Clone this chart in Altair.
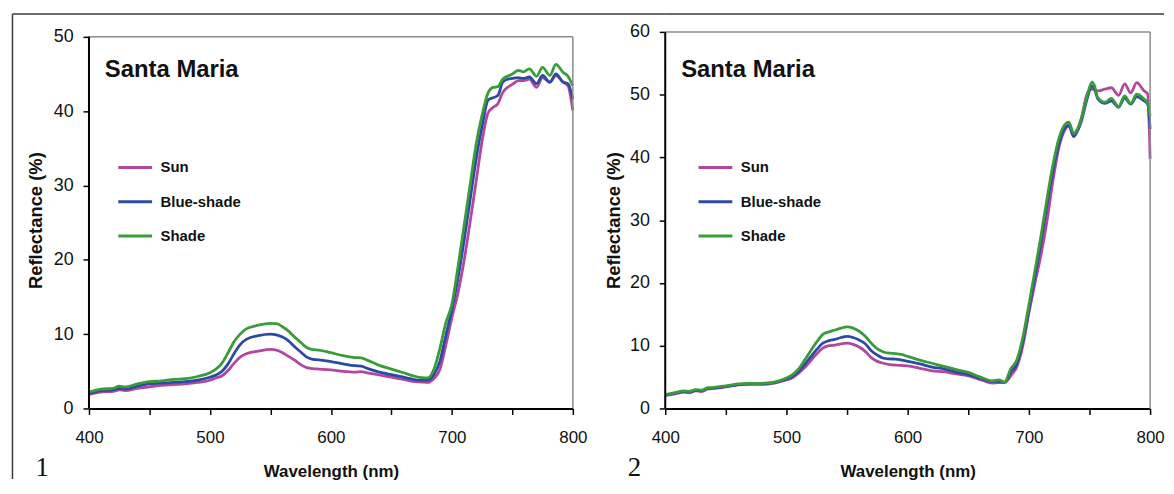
import altair as alt
import pandas as pd

SERIES = ["Sun", "Blue-shade", "Shade"]
COLORS = ["#b2479f", "#2b4ba3", "#3a9b3a"]

# ---------------- Panel 1 ----------------
WL1 = [400, 410, 420, 425, 430, 440, 450, 460, 470, 480,
       490, 500, 505, 510, 515, 520, 525, 530, 540, 550,
       555, 560, 565, 570, 575, 580, 585, 590, 600, 610,
       620, 625, 630, 640, 650, 660, 670, 675, 680, 685,
       690, 695, 700, 705, 710, 715, 720, 725, 730, 734,
       738, 742, 746, 750, 755, 759, 764, 770, 775, 781,
       786, 792, 796, 800]
SHADE1 = [2.2, 2.6, 2.7, 3.0, 2.9, 3.3, 3.6, 3.7, 3.9, 4.0,
          4.3, 4.8, 5.3, 6.1, 7.5, 9.0, 10.0, 10.7, 11.2, 11.45,
          11.4, 11.0, 10.4, 9.6, 8.9, 8.2, 7.9, 7.85, 7.5, 7.1,
          6.85, 6.8, 6.5, 5.8, 5.3, 4.8, 4.3, 4.15, 4.1, 5.2,
          8.0, 11.5, 14.0, 19.0, 24.5, 30.0, 35.5, 39.5, 42.5, 43.2,
          43.3, 44.3, 44.7, 45.0, 45.5, 45.3, 45.7, 44.7, 45.9, 44.8,
          46.3, 45.2, 44.7, 43.4]
BLUE1 = [2.0, 2.4, 2.5, 2.7, 2.6, 3.0, 3.3, 3.4, 3.5, 3.6,
         3.8, 4.2, 4.5, 5.0, 6.0, 7.4, 8.6, 9.3, 9.8, 10.0,
         9.9, 9.6, 9.1, 8.3, 7.6, 6.9, 6.6, 6.55, 6.3, 6.0,
         5.75, 5.7, 5.4, 4.9, 4.55, 4.2, 3.85, 3.8, 3.8, 4.5,
         6.3, 9.8, 13.3, 17.5, 22.5, 28.0, 33.5, 38.0, 41.5, 41.8,
         42.1, 43.9, 44.3, 44.4, 44.5, 44.4, 44.6, 43.7, 44.8, 43.9,
         45.0, 43.9, 43.7, 41.6]
SUN1 = [1.9, 2.2, 2.3, 2.5, 2.4, 2.7, 2.9, 3.1, 3.2, 3.3,
        3.5, 3.8, 4.1, 4.4, 5.1, 6.1, 6.9, 7.35, 7.7, 7.95,
        7.85, 7.5, 7.0, 6.5, 5.9, 5.5, 5.35, 5.3, 5.2, 5.0,
        4.9, 4.95, 4.8, 4.5, 4.2, 3.9, 3.6, 3.55, 3.5, 4.0,
        5.2, 8.5, 12.2, 15.5, 19.8, 25.0, 30.5, 36.0, 39.8, 40.5,
        41.0, 42.5, 43.2, 43.6, 44.1, 44.1, 44.3, 43.2, 44.5, 43.9,
        44.8, 43.9, 43.4, 40.1]

# ---------------- Panel 2 ----------------
WL2 = [400, 410, 415, 420, 425, 430, 435, 440, 450, 460,
       470, 475, 480, 490, 500, 505, 510, 515, 520, 525,
       530, 535, 540, 545, 550, 555, 560, 565, 570, 575,
       580, 585, 590, 595, 600, 610, 620, 630, 640, 650,
       660, 670, 675, 680, 685, 690, 695, 700, 705, 710,
       715, 720, 725, 730, 733, 737, 740, 743, 748, 752,
       754, 757, 763, 768, 774, 779, 784, 789, 795, 798,
       800]
SHADE2 = [2.2, 2.6, 2.8, 2.7, 3.0, 2.9, 3.3, 3.35, 3.6, 3.9,
          4.0, 3.95, 4.0, 4.2, 4.85, 5.4, 6.3, 7.7, 9.2, 10.6,
          11.8, 12.2, 12.5, 12.8, 13.0, 12.8, 12.3, 11.5, 10.4, 9.5,
          9.0, 8.8, 8.75, 8.6, 8.3, 7.7, 7.2, 6.7, 6.2, 5.75,
          5.0, 4.4, 4.55, 4.2, 6.3, 7.7, 11.3, 16.5, 22.0, 27.5,
          33.5, 39.0, 43.2, 45.3, 45.6, 43.8, 44.5, 46.0, 49.8, 52.0,
          51.5, 49.5, 48.8, 49.4, 48.1, 49.8, 48.6, 50.1, 49.3, 48.6,
          46.6]
BLUE2 = [2.15, 2.5, 2.7, 2.6, 2.9, 2.8, 3.2, 3.25, 3.5, 3.8,
         3.9, 3.9, 3.9, 4.1, 4.7, 5.1, 5.9, 7.0, 8.2, 9.4,
         10.4, 10.8, 11.0, 11.3, 11.5, 11.3, 10.9, 10.3, 9.2, 8.5,
         8.0, 7.9, 7.85, 7.7, 7.5, 7.1, 6.6, 6.3, 5.8, 5.4,
         4.8, 4.3, 4.3, 4.2, 5.75, 7.1, 10.6, 15.8, 21.0, 26.5,
         32.5, 38.0, 42.3, 44.8, 45.1, 43.4, 44.2, 45.6, 49.3, 51.4,
         51.0, 49.3, 48.6, 49.0, 48.0, 49.5, 48.5, 49.7, 49.0, 48.5,
         44.5]
SUN2 = [2.05, 2.4, 2.6, 2.5, 2.8, 2.7, 3.1, 3.2, 3.45, 3.75,
        3.85, 3.85, 3.85, 4.05, 4.55, 4.9, 5.6, 6.5, 7.6, 8.7,
        9.6, 10.0, 10.1, 10.3, 10.4, 10.2, 9.8, 9.1, 8.1, 7.5,
        7.2, 7.0, 6.9, 6.85, 6.8, 6.4, 6.0, 5.85, 5.5, 5.2,
        4.6, 4.05, 4.1, 4.1, 5.2, 6.6, 10.0, 15.2, 20.0, 24.5,
        30.0, 36.5, 41.8, 44.5, 45.0, 43.3, 44.3, 46.0, 50.1, 50.9,
        50.8, 50.6, 50.9, 51.1, 49.9, 51.7, 50.3, 51.9, 50.6, 50.1,
        39.8]

X_TICKS = [400, 450, 500, 550, 600, 650, 700, 750, 800]
Y_TICKS1 = [0, 5, 10, 15, 20, 25, 30, 35, 40, 45, 50]
Y_TICKS2 = [0, 5, 10, 15, 20, 25, 30, 35, 40, 45, 50, 55, 60]

FONT = "Liberation Sans, Arial, sans-serif"
TICKFONT = "Liberation Sans Narrow, Arial Narrow, Liberation Sans, Arial, sans-serif"
INK = "#111111"
FRAME = "#8c8c8c"
OUTER = "#3a3a3a"

W1, W2, H = 487, 488, 379


def long_table(wl, sun, blue, shade):
    rows = []
    for name, vals in zip(SERIES, [sun, blue, shade]):
        for w, v in zip(wl, vals):
            rows.append({"wl": w, "R": v, "series": name})
    return pd.DataFrame(rows)


one = pd.DataFrame({"k": [0]})


def panel(df, yticks, ydom_max, width, legend_x, ytitle_x, fig_text, fig_x, fig_y,
          outer_left, outer_x1, outer_x2):
    ymax = yticks[-1]
    xscale = alt.Scale(domain=[400, 800], nice=False, zero=False)
    yscale = alt.Scale(domain=[0, ydom_max], nice=False, zero=True)
    xaxis = alt.Axis(
        values=X_TICKS,
        labelExpr="datum.value % 100 == 0 ? datum.label : ''",
        title="Wavelength (nm)",
        grid=False, domain=True, domainColor="#000000", domainWidth=2,
        ticks=True, tickSize=6, tickWidth=1.5, tickColor="#000000",
        labelFont=TICKFONT, labelFontSize=17, labelColor=INK, labelPadding=15,
        labelFlush=False, labelOverlap=False,
        titleFont=FONT, titleFontSize=17, titleFontWeight="bold", titleColor=INK,
        titleBaseline="alphabetic", titleY=69,
    )
    yaxis = alt.Axis(
        values=yticks,
        labelExpr="datum.value % 10 == 0 ? datum.label : ''",
        title="Reflectance (%)",
        grid=False, domain=False,
        ticks=True, tickSize=6, tickWidth=1.5, tickColor="#000000",
        labelFont=TICKFONT, labelFontSize=18, labelColor=INK, labelPadding=10,
        labelFlush=False, labelOverlap=False,
        titleFont=FONT, titleFontSize=18.5, titleFontWeight="bold", titleColor=INK,
        titleBaseline="alphabetic", titleX=ytitle_x,
    )
    legend = alt.Legend(
        orient="none", legendX=legend_x, legendY=118, title=None,
        symbolType="stroke", symbolSize=1156, symbolStrokeWidth=3,
        labelFont=FONT, labelFontWeight="bold", labelFontSize=15, labelColor=INK,
        labelOffset=7, rowPadding=7.5, padding=0,
    )
    lines = alt.Chart(df).mark_line(strokeWidth=2.8, interpolate="monotone", clip=False).encode(
        x=alt.X("wl:Q", scale=xscale, axis=xaxis),
        y=alt.Y("R:Q", scale=yscale, axis=yaxis),
        color=alt.Color("series:N", scale=alt.Scale(domain=SERIES, range=COLORS),
                        legend=legend, sort=SERIES),
    )
    frame_top = alt.Chart(one).mark_rule(color=FRAME, strokeWidth=1.5).encode(
        x=alt.datum(400), x2=alt.datum(800), y=alt.datum(ymax))
    frame_right = alt.Chart(one).mark_rule(color=FRAME, strokeWidth=1.5).encode(
        x=alt.datum(800), y=alt.datum(0), y2=alt.datum(ymax))
    axis_left = alt.Chart(one).mark_rule(color="#000000", strokeWidth=2).encode(
        x=alt.datum(400), y=alt.datum(0), y2=alt.datum(ymax))
    title_txt = alt.Chart(one).mark_text(
        text="Santa Maria", align="left", baseline="alphabetic", font=FONT,
        fontSize=24, fontWeight="bold", color=INK,
    ).encode(x=alt.value(16), y=alt.value(45))
    fig_txt = alt.Chart(one).mark_text(
        text=fig_text, align="center", baseline="alphabetic",
        font="Liberation Serif, Times New Roman, serif", fontSize=27, color=INK,
    ).encode(x=alt.value(fig_x), y=alt.value(fig_y))
    layers = [lines, frame_top, frame_right, axis_left, title_txt, fig_txt]
    outer_top = alt.Chart(one).mark_rule(color=OUTER, strokeWidth=1.5).encode(
        x=alt.value(outer_x1), x2=alt.value(outer_x2), y=alt.value(-18))
    layers.append(outer_top)
    if outer_left:
        outer_l = alt.Chart(one).mark_rule(color=OUTER, strokeWidth=1.5).encode(
            x=alt.value(-77), y=alt.value(-18), y2=alt.value(450))
        layers.append(outer_l)
    return alt.layer(*layers).properties(width=width, height=H)


p1 = panel(long_table(WL1, SUN1, BLUE1, SHADE1), Y_TICKS1, 50 * 379 / 374, W1,
           28, -48, "1", -47, 447, True, -77, 580)
p2 = panel(long_table(WL2, SUN2, BLUE2, SHADE2), Y_TICKS2, 60, W2,
           32, -46, "2", -31, 447, False, 0, 502)

chart = (
    alt.hconcat(p1, p2, spacing=93, bounds="flush")
    .resolve_scale(x="independent", y="independent", color="shared")
    .resolve_legend(color="independent")
    .configure_view(stroke="transparent")
    .properties(padding={"left": 2.5, "top": 2.5, "right": 0, "bottom": 0}, background="white")
)

chart.save("out.html", embed_options={"renderer": "svg", "actions": False})
